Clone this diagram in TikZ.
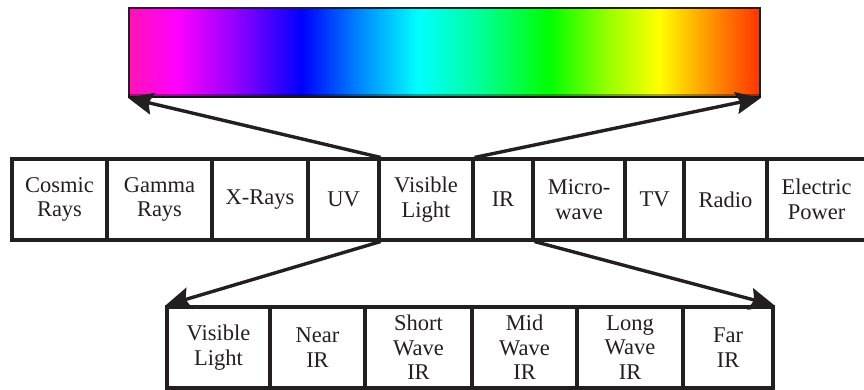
\documentclass[tikz,border=0pt]{standalone}
\usepackage{fontspec}
\setmainfont{Liberation Serif}
\usetikzlibrary{arrows.meta}
\definecolor{ink}{HTML}{231F20}
\definecolor{sA}{HTML}{FF14B4}
\definecolor{sB}{HTML}{FF00FF}
\definecolor{sC}{HTML}{9900FF}
\definecolor{sD}{HTML}{0000FF}
\definecolor{sE}{HTML}{0088FF}
\definecolor{sF}{HTML}{00FFFF}
\definecolor{sG}{HTML}{00FF99}
\definecolor{sH}{HTML}{00FF00}
\definecolor{sI}{HTML}{99FF00}
\definecolor{sJ}{HTML}{FFFF00}
\definecolor{sK}{HTML}{FF8800}
\definecolor{sL}{HTML}{FF3300}
% visible spectrum, stops placed in the central 25bp--75bp band
\pgfdeclarehorizontalshading{spectrum}{100bp}{%
  color(0bp)=(sA); color(25bp)=(sA); color(28.8bp)=(sB); color(33.2bp)=(sC);
  color(38.7bp)=(sD); color(43.3bp)=(sE); color(47.9bp)=(sF); color(52.8bp)=(sG);
  color(58.3bp)=(sH); color(63bp)=(sI); color(67bp)=(sJ); color(71.5bp)=(sK);
  color(75bp)=(sL); color(100bp)=(sL)}
\begin{document}
\begin{tikzpicture}[x=1pt,y=-1pt,
  cell/.style={draw=ink, line width=3.1pt, minimum height=81pt, inner sep=0pt,
    text=ink, font=\fontsize{22.5}{24.5}\selectfont, align=center},
  link/.style={draw=ink, line width=3.4pt,
    -{Stealth[length=25pt,width=22pt,inset=4pt]}}]
\useasboundingbox (0,0) rectangle (864,390);

% spectrum bar
\node[shade, shading=spectrum, draw=ink, line width=1.8pt, inner sep=0pt,
  minimum width=631pt, minimum height=89pt] (bar) at (444.5,52.5) {};
\fill[black, opacity=0.35] (bar.south west) ++(0,-4) rectangle (bar.south east);

% electromagnetic bands
\node[cell, minimum width=95pt]  (cosmic) at (59.5,199.5)  {Cosmic\\Rays};
\node[cell, minimum width=105pt] (gamma)  at (159.5,199.5) {Gamma\\Rays};
\node[cell, minimum width=96pt]  (xray)   at (260,199.5)   {X-Rays};
\node[cell, minimum width=71pt]  (uv)     at (343.5,199.5) {UV};
\node[cell, minimum width=94pt]  (vis)    at (426,199.5)   {Visible\\Light};
\node[cell, minimum width=60pt]  (ir)     at (503,199.5)   {IR};
\node[cell, minimum width=92pt]  (micro)  at (579,199.5)   {Micro-\\wave};
\node[cell, minimum width=59pt]  (tv)     at (654.5,199.5) {TV};
\node[cell, minimum width=83pt]  (radio)  at (725.5,199.5) {Radio};
\node[cell, minimum width=99pt]  (elec)   at (816.5,199.5) {Electric\\Power};

% infrared sub-bands
\node[cell, minimum width=103pt] (vl)   at (218.5,347.5) {Visible\\Light};
\node[cell, minimum width=95pt]  (nir)  at (317.5,347.5) {Near\\IR};
\node[cell, minimum width=107pt] (swir) at (418.5,347.5) {Short\\Wave\\IR};
\node[cell, minimum width=105pt] (mwir) at (524.5,347.5) {Mid\\Wave\\IR};
\node[cell, minimum width=106pt] (lwir) at (630,347.5)   {Long\\Wave\\IR};
\node[cell, minimum width=90pt]  (fir)  at (728,347.5)   {Far\\IR};

% zoom arrows
\draw[link] (uv.north east) -- (bar.south west);
\draw[link] (vis.north east) -- (bar.south east);
\draw[link] (uv.south east) -- (vl.north west);
\draw[link] (ir.south east) -- (fir.north east);
\end{tikzpicture}
\end{document}
